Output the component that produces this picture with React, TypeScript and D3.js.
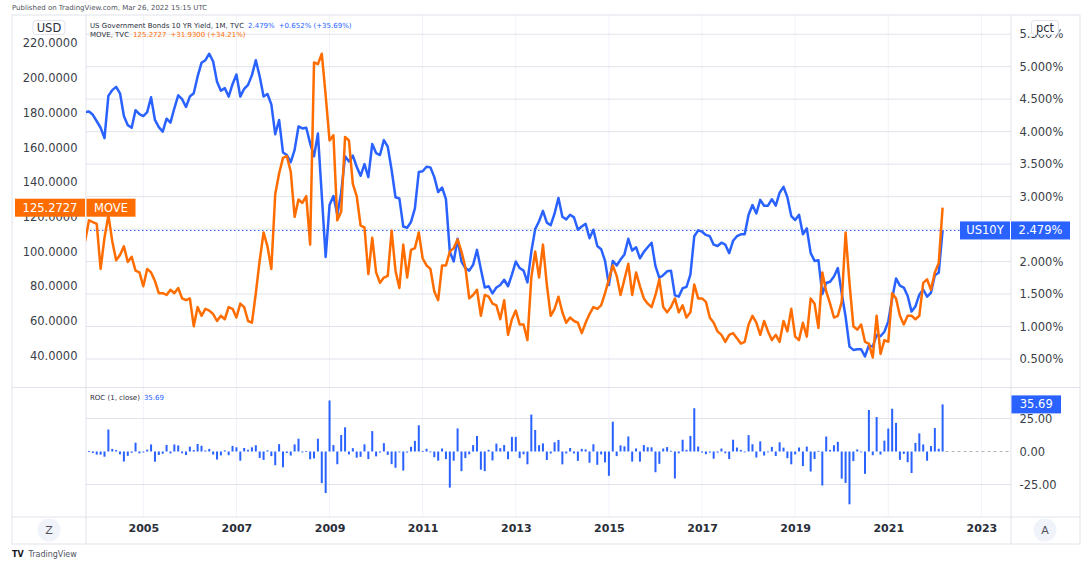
import React from "react";
import * as d3 from "d3";

// monthly closes, Oct 2003 .. Mar 2022
const startYear = 2003;
const startMonth = 9; // October

const us10y: number[] = [
  4.30, 4.31, 4.26,
  4.16, 4.06, 3.90, 4.55, 4.64, 4.69, 4.59, 4.24, 4.10, 4.06, 4.33, 4.27, // 2004
  4.24, 4.30, 4.53, 4.18, 4.07, 4.00, 4.20, 4.14, 4.36, 4.56, 4.50, 4.38, // 2005
  4.54, 4.59, 4.85, 5.06, 5.10, 5.20, 5.08, 4.77, 4.63, 4.67, 4.54, 4.73, // 2006
  4.88, 4.54, 4.66, 4.72, 4.87, 5.10, 4.85, 4.54, 4.58, 4.42, 3.96, 4.18, // 2007
  3.68, 3.64, 3.53, 3.72, 4.08, 4.05, 4.06, 3.82, 3.62, 3.97, 3.02, 2.07, // 2008
  2.87, 3.01, 2.72, 3.06, 3.62, 3.54, 3.63, 3.46, 3.32, 3.50, 3.30, 3.81, // 2009
  3.67, 3.64, 3.87, 3.77, 3.41, 2.99, 2.97, 2.54, 2.52, 2.61, 2.82, 3.38, // 2010
  3.39, 3.46, 3.45, 3.30, 3.07, 3.14, 2.96, 2.15, 2.00, 2.35, 2.00, 1.90, // 2011
  1.86, 1.95, 2.18, 1.88, 1.60, 1.62, 1.51, 1.60, 1.64, 1.72, 1.62, 1.80, // 2012
  2.00, 1.90, 1.86, 1.68, 2.15, 2.50, 2.62, 2.78, 2.60, 2.56, 2.74, 2.98, // 2013
  2.69, 2.65, 2.72, 2.68, 2.49, 2.54, 2.58, 2.36, 2.49, 2.24, 2.19, 2.01, // 2014
  1.64, 2.01, 1.94, 2.03, 2.11, 2.35, 2.17, 2.22, 2.05, 2.15, 2.22, 2.29, // 2015
  1.93, 1.75, 1.79, 1.85, 1.86, 1.48, 1.46, 1.59, 1.61, 1.80, 2.39, 2.48, // 2016
  2.46, 2.41, 2.39, 2.26, 2.24, 2.29, 2.26, 2.13, 2.32, 2.39, 2.42, 2.42, // 2017
  2.72, 2.87, 2.74, 2.95, 2.86, 2.86, 2.96, 2.86, 3.06, 3.15, 2.99, 2.70, // 2018
  2.64, 2.72, 2.42, 2.51, 2.13, 2.01, 2.02, 1.50, 1.67, 1.69, 1.77, 1.90, // 2019
  1.51, 1.15, 0.69, 0.64, 0.65, 0.65, 0.54, 0.71, 0.69, 0.87, 0.85, 0.92, // 2020
  1.08, 1.43, 1.74, 1.63, 1.60, 1.47, 1.23, 1.31, 1.49, 1.57, 1.46, 1.52, // 2021
  1.79, 1.827, 2.479,
];

const move: number[] = [
  106, 118, 117,
  116, 90, 108, 121, 106, 95, 98, 103, 94, 97, 89, 88, // 2004
  80, 90, 88, 83, 76, 76, 75, 78, 76, 79, 73, 72, // 2005
  73, 57, 68, 63, 67, 66, 64, 60, 63, 61, 68, 67, // 2006
  62, 70, 68, 60, 59, 76, 95, 111, 103, 90, 133, 145, // 2007
  154, 155, 146, 120, 130, 128, 132, 104, 209, 208, 214, 190, // 2008
  164, 167, 118, 123, 166, 164, 139, 132, 115, 114, 87, 108, // 2009
  88, 82, 85, 86, 112, 89, 79, 104, 85, 101, 102, 111, // 2010
  96, 92, 90, 77, 72, 92, 92, 100, 102, 107, 100, 91, // 2011
  73, 75, 78, 63, 75, 74, 70, 69, 61, 72, 52, 61, // 2012
  66, 58, 58, 49, 85, 100, 85, 104, 81, 63, 67, 74, // 2013
  65, 59, 62, 60, 59, 53, 59, 64, 68, 67, 69, 76, // 2014
  84, 92, 86, 75, 84, 93, 75, 88, 80, 73, 70, 68, // 2015
  75, 84, 68, 65, 68, 73, 65, 69, 62, 65, 81, 73, // 2016
  73, 71, 62, 59, 54, 52, 48, 52, 53, 50, 47, 48, // 2017
  58, 63, 59, 52, 60, 54, 49, 52, 48, 60, 54, 67, // 2018
  51, 49, 59, 51, 73, 70, 56, 88, 77, 70, 62, 63, // 2019
  71, 111, 82, 57, 55, 58, 48, 47, 39, 63, 41, 49, // 2020
  48, 76, 73, 63, 58, 63, 63, 61, 63, 82, 84, 78, // 2021
  88, 93.34, 125.2727,
];

const usdTicks = [40, 60, 80, 100, 120, 140, 160, 180, 200, 220];
const pctTicks = [0.5, 1, 1.5, 2, 2.5, 3, 3.5, 4, 4.5, 5, 5.5];
const rocTicks = [-25, 0, 25];
const yearTicks = [2005, 2007, 2009, 2011, 2013, 2015, 2017, 2019, 2021, 2023];

const BLUE = "#2962ff";
const ORANGE = "#ff6d00";
const GRID = "#e0e3eb";
const FONT = "DejaVu Sans, sans-serif";

const App = () => {
  const svgRef = React.useRef<SVGSVGElement>(null);

  React.useEffect(() => {
    const svg = d3.select(svgRef.current);
    svg.selectAll("*").remove();

    const left = 86, right = 1011, top = 15, paneBottom = 387.5, rocBottom = 517, bottom = 544;
    const n = us10y.length;

    // bar index -> x (evenly spaced monthly bars)
    const x = d3.scaleLinear().domain([0, n - 1]).range([85.1, 942.6]);
    const pct = d3.scaleLinear().domain([0.5, 5]).range([359, 66.7]);
    const usd = d3.scaleLinear().domain([40, 220]).range([355.7, 43.3]);
    const roc = d3.scaleLinear().domain([-25, 25]).range([484.5, 418.5]);

    const rocVals = us10y.map((v, i) => (i === 0 ? 0 : (v / us10y[i - 1] - 1) * 100));
    const yearIndex = (y: number) => (y - startYear) * 12 - startMonth;

    svg.append("rect").attr("width", 1091).attr("height", 561).attr("fill", "#fff");

    svg.append("text").attr("x", 12).attr("y", 10).attr("font-family", FONT)
      .attr("font-size", 7).attr("fill", "#50535e")
      .text("Published on TradingView.com, Mar 26, 2022 15:15 UTC");

    const defs = svg.append("defs");
    defs.append("clipPath").attr("id", "main-clip").append("rect")
      .attr("x", left).attr("y", top).attr("width", right - left).attr("height", paneBottom - top);

    // vertical year grid
    svg.append("g").selectAll("line").data(yearTicks).join("line")
      .attr("x1", (d) => x(yearIndex(d))).attr("x2", (d) => x(yearIndex(d)))
      .attr("y1", top).attr("y2", rocBottom)
      .attr("stroke", "#f0f3fa").attr("stroke-width", 1);

    // horizontal grid, main pane (pct scale)
    svg.append("g").selectAll("line").data(pctTicks).join("line")
      .attr("x1", left).attr("x2", right)
      .attr("y1", (d) => pct(d)).attr("y2", (d) => pct(d))
      .attr("stroke", GRID).attr("stroke-width", 1);

    // roc grid
    svg.append("g").selectAll("line").data([25, -25]).join("line")
      .attr("x1", left).attr("x2", right)
      .attr("y1", (d) => roc(d)).attr("y2", (d) => roc(d))
      .attr("stroke", GRID).attr("stroke-width", 1);

    // frame
    const frame = svg.append("g").attr("stroke", GRID).attr("fill", "none");
    frame.append("rect").attr("x", 12).attr("y", top).attr("width", 1080 - 12).attr("height", bottom - top);
    frame.append("line").attr("x1", left).attr("x2", left).attr("y1", top).attr("y2", bottom);
    frame.append("line").attr("x1", right).attr("x2", right).attr("y1", top).attr("y2", bottom);
    frame.append("line").attr("x1", 12).attr("x2", 1080).attr("y1", paneBottom).attr("y2", paneBottom);
    frame.append("line").attr("x1", 12).attr("x2", 1080).attr("y1", rocBottom).attr("y2", rocBottom);

    // last value dotted line
    svg.append("line").attr("x1", left).attr("x2", 960)
      .attr("y1", pct(us10y[n - 1])).attr("y2", pct(us10y[n - 1]))
      .attr("stroke", BLUE).attr("stroke-width", 1).attr("stroke-dasharray", "1.5,2.5");

    // series
    const plot = svg.append("g").attr("clip-path", "url(#main-clip)");
    const blueLine = d3.line<number>().x((_, i) => x(i)).y((d) => pct(d));
    const orangeLine = d3.line<number>().x((_, i) => x(i)).y((d) => usd(d));
    plot.append("path").datum(us10y).attr("d", blueLine).attr("fill", "none")
      .attr("stroke", BLUE).attr("stroke-width", 2.5).attr("stroke-linejoin", "round");
    plot.append("path").datum(move).attr("d", orangeLine).attr("fill", "none")
      .attr("stroke", ORANGE).attr("stroke-width", 2.5).attr("stroke-linejoin", "round");

    // roc bars
    svg.append("g").selectAll("rect").data(rocVals.slice(1)).join("rect")
      .attr("x", (_, i) => x(i + 1) - 1)
      .attr("width", 2)
      .attr("y", (d) => Math.min(roc(d), roc(0)))
      .attr("height", (d) => Math.max(0.8, Math.abs(roc(d) - roc(0))))
      .attr("fill", BLUE);
    svg.append("line").attr("x1", x(n - 1) + 3).attr("x2", right)
      .attr("y1", roc(0)).attr("y2", roc(0))
      .attr("stroke", "#b2b5be").attr("stroke-dasharray", "3,3");

    // left axis (USD)
    const yLeft = svg.append("g").attr("transform", "translate(80,0)")
      .call(d3.axisLeft(usd).tickValues(usdTicks).tickSize(0).tickPadding(2.5).tickFormat((d) => (+d).toFixed(4)));
    yLeft.select(".domain").remove();
    yLeft.selectAll("text").attr("font-family", FONT).attr("font-size", 11.5).attr("fill", "#3b3e48");

    // right axis (pct)
    const yRight = svg.append("g").attr("transform", `translate(${right},0)`)
      .call(d3.axisRight(pct).tickValues(pctTicks).tickSize(0).tickPadding(8.5).tickFormat((d) => `${(+d).toFixed(3)}%`));
    yRight.select(".domain").remove();
    yRight.selectAll("text").attr("font-family", FONT).attr("font-size", 11.5).attr("fill", "#3b3e48");

    // roc axis
    const yRoc = svg.append("g").attr("transform", `translate(${right},0)`)
      .call(d3.axisRight(roc).tickValues(rocTicks).tickSize(0).tickPadding(8.5).tickFormat((d) => (+d).toFixed(2)));
    yRoc.select(".domain").remove();
    yRoc.selectAll("text").attr("font-family", FONT).attr("font-size", 11.5).attr("fill", "#3b3e48");

    // time axis
    const xAxis = svg.append("g").attr("transform", "translate(0,524)")
      .call(d3.axisBottom(x).tickValues(yearTicks.map(yearIndex)).tickSize(0).tickPadding(0)
        .tickFormat((d) => String(Math.round(+d + startMonth) / 12 + startYear)));
    xAxis.select(".domain").remove();
    xAxis.selectAll("text").attr("font-family", FONT).attr("font-size", 11).attr("font-weight", "bold")
      .attr("fill", "#2a2e39");

    // axis unit boxes
    const unitBox = (cx: number, label: string, w: number) => {
      svg.append("rect").attr("x", cx - w / 2).attr("y", 20.5).attr("width", w).attr("height", 14)
        .attr("rx", 3).attr("fill", "#fff").attr("stroke", GRID);
      svg.append("text").attr("x", cx).attr("y", 27.5).attr("dy", "0.35em").attr("text-anchor", "middle")
        .attr("font-family", FONT).attr("font-size", 11.5).attr("fill", "#2a2e39").text(label);
    };
    unitBox(49, "USD", 32);
    unitBox(1045, "pct", 27);

    // price labels
    const tag = (x0: number, w: number, cy: number, fill: string, label: string) => {
      svg.append("rect").attr("x", x0).attr("y", cy - 9).attr("width", w).attr("height", 18).attr("fill", fill);
      svg.append("text").attr("x", x0 + w / 2).attr("y", cy).attr("dy", "0.35em").attr("text-anchor", "middle")
        .attr("font-family", FONT).attr("font-size", 11.5).attr("fill", "#fff").text(label);
    };
    const moveY = usd(move[n - 1]);
    tag(15, 70, moveY, ORANGE, "125.2727");
    tag(86.5, 49, moveY, ORANGE, "MOVE");
    const usY = pct(us10y[n - 1]);
    tag(960, 50, usY, BLUE, "US10Y");
    tag(1011, 59, usY, BLUE, "2.479%");
    tag(1011.5, 49.5, roc(rocVals[n - 1]), BLUE, rocVals[n - 1].toFixed(2));
    svg.append("line").attr("x1", 1010.5).attr("x2", 1010.5).attr("y1", usY - 9).attr("y2", usY + 9)
      .attr("stroke", "#fff").attr("stroke-width", 1);

    // legends
    const legend = (y: number, title: string, parts: [string, string][]) => {
      const t = svg.append("text").attr("x", 90).attr("y", y).attr("font-family", FONT).attr("font-size", 7);
      t.append("tspan").attr("fill", "#2a2e39").text(title);
      parts.forEach(([s, c]) => t.append("tspan").attr("dx", 4).attr("fill", c).text(s));
    };
    legend(27.5, "US Government Bonds 10 YR Yield, 1M, TVC", [["2.479%", BLUE], ["+0.652% (+35.69%)", BLUE]]);
    legend(37, "MOVE, TVC", [["125.2727", ORANGE], ["+31.9300 (+34.21%)", ORANGE]]);
    legend(399.5, "ROC (1, close)", [["35.69", BLUE]]);

    // Z / A buttons
    [[49, "Z"], [1045, "A"]].forEach(([cx, l]) => {
      svg.append("circle").attr("cx", cx as number).attr("cy", 530).attr("r", 11.5).attr("fill", "#f0f3fa");
      svg.append("text").attr("x", cx as number).attr("y", 530).attr("dy", "0.35em").attr("text-anchor", "middle")
        .attr("font-family", FONT).attr("font-size", 11).attr("fill", "#50535e").text(l as string);
    });

    // footer logo
    svg.append("text").attr("x", 12).attr("y", 557).attr("font-family", FONT).attr("font-size", 8)
      .attr("font-weight", "bold").attr("fill", "#131722").text("TV");
    svg.append("text").attr("x", 28.5).attr("y", 557).attr("font-family", FONT).attr("font-size", 8)
      .attr("fill", "#50535e").text("TradingView");
  }, []);

  return (
    <svg ref={svgRef} width={1091} height={561}
      style={{ position: "absolute", left: 0, top: 0, display: "block" }} />
  );
};

export default App;
